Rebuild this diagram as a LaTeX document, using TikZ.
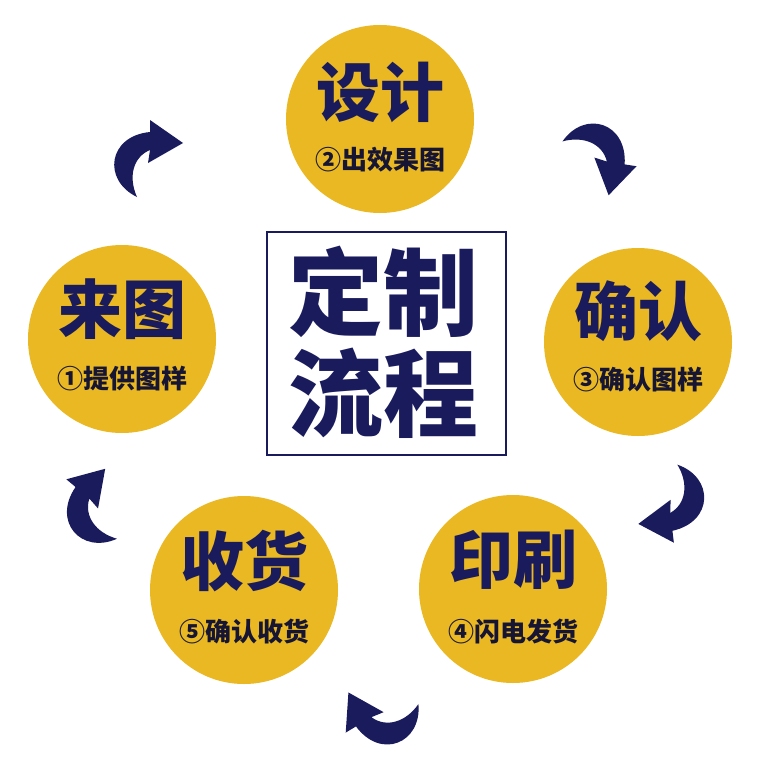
\documentclass[tikz,border=0pt]{standalone}
\usepackage{fontspec}
\newfontfamily\cjk{Noto Sans CJK SC}
\definecolor{goldy}{RGB}{234,184,34}
\definecolor{navy}{RGB}{26,27,92}
\definecolor{darkt}{RGB}{22,22,52}
\tikzset{
  stepcircle/.style={circle, fill=goldy, minimum size=188pt, inner sep=0pt},
  titletext/.style={text=navy, font=\cjk\bfseries\fontsize{64}{64}\selectfont, inner sep=0pt},
  subtext/.style={text=darkt, font=\cjk\bfseries\fontsize{26}{26}\selectfont, inner sep=0pt},
  bigtext/.style={text=navy, font=\cjk\bfseries\fontsize{95}{95}\selectfont, inner sep=0pt},
  curvearrow/.style={fill=navy},
}
\newcommand{\curlyarrow}[3]{%
  \begin{scope}[shift={(#1,#2)}, rotate=#3]
    \fill[curvearrow] (-13,37) .. controls (-48,20) and (-42,-24) .. (0,-28)
      -- (0,-40) -- (33,-17) -- (-2,3) -- (0,-10)
      .. controls (-17,-3) and (-22,17) .. (-13,37) -- cycle;
  \end{scope}}
\begin{document}
\begin{tikzpicture}[x=1pt, y=-1pt]
\useasboundingbox (0,0) rectangle (760,760);
\fill[white] (0,0) rectangle (760,760);

% center box
\node[draw=navy, line width=1.6pt, minimum width=239pt, minimum height=223pt, inner sep=0pt] (box) at (386.5,343.5) {};
\node[bigtext] (t1) at (383,292) {定制};
\node[bigtext] (t2) at (383,393) {流程};

% circles
\node[stepcircle] (c2) at (380,119) {};
\node[titletext] (c2a) at (380,92) {设计};
\node[subtext] (c2b) at (380,160) {②出效果图};

\node[stepcircle] (c1) at (122,339) {};
\node[titletext] (c1a) at (122,309) {来图};
\node[subtext] (c1b) at (122,379) {①提供图样};

\node[stepcircle] (c3) at (638,342) {};
\node[titletext] (c3a) at (638,311) {确认};
\node[subtext] (c3b) at (638,380) {③确认图样};

\node[stepcircle] (c4) at (513,589) {};
\node[titletext] (c4a) at (513,560) {印刷};
\node[subtext] (c4b) at (513,631) {④闪电发货};

\node[stepcircle] (c5) at (244,590) {};
\node[titletext] (c5a) at (244,561) {收货};
\node[subtext] (c5b) at (244,632) {⑤确认收货};

% curved arrows
\curlyarrow{150}{160}{0}
\curlyarrow{597}{160}{-99}
\curlyarrow{669}{503}{187}
\curlyarrow{380}{712}{121}
\curlyarrow{97}{505}{50}
\end{tikzpicture}
\end{document}
